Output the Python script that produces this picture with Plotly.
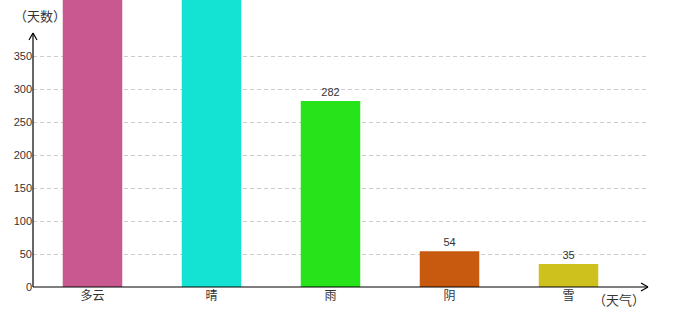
import plotly.graph_objects as go

categories = ["多云", "晴", "雨", "阴", "雪"]
values = [640, 560, 282, 54, 35]
colors = ["#C8588F", "#14E2D3", "#27E31A", "#C85A10", "#CEC11E"]
y_ticks = [0, 50, 100, 150, 200, 250, 300, 350]

W, H = 680, 320
L, R, T, B = 33, 33, 0, 33
pw, ph = W - L - R, H - T - B
y_max = ph / 0.66

def px(x):
    return (x - L) / pw

def py(y):
    return (H - B - y) / ph

labels = [str(v) if v < y_max * 0.95 else "" for v in values]

fig = go.Figure()
fig.add_trace(go.Bar(
    x=list(range(len(categories))), y=values,
    marker=dict(color=colors, line=dict(width=0)),
    width=0.5,
    text=labels, textposition="outside",
    textfont=dict(family="Liberation Sans, Arial", size=11, color="#333"),
    cliponaxis=True,
))

line = dict(color="black", width=1.2)
shapes = [
    dict(type="line", xref="paper", yref="paper", x0=px(33), y0=py(287), x1=px(33), y1=py(33), line=line),
    dict(type="line", xref="paper", yref="paper", x0=px(29), y0=py(40), x1=px(33), y1=py(33), line=line),
    dict(type="line", xref="paper", yref="paper", x0=px(37), y0=py(40), x1=px(33), y1=py(33), line=line),
    dict(type="line", xref="paper", yref="paper", x0=px(33), y0=py(287), x1=px(648), y1=py(287), line=line),
    dict(type="line", xref="paper", yref="paper", x0=px(641), y0=py(283), x1=px(648), y1=py(287), line=line),
    dict(type="line", xref="paper", yref="paper", x0=px(641), y0=py(291), x1=px(648), y1=py(287), line=line),
]

annotations = [
    dict(text="（天数）", xref="paper", yref="paper", x=px(40), y=py(15), showarrow=False,
         font=dict(family="Noto Sans CJK TC", size=13, color="#333"), xanchor="center", yanchor="middle"),
    dict(text="（天气）", xref="paper", yref="paper", x=px(619), y=py(299), showarrow=False,
         font=dict(family="Noto Sans CJK TC", size=13, color="#333"), xanchor="center", yanchor="middle"),
]

fig.update_layout(
    width=W, height=H,
    margin=dict(l=L, r=R, t=T, b=B),
    paper_bgcolor="white", plot_bgcolor="white",
    showlegend=False,
    bargap=0.5,
    shapes=shapes,
    annotations=annotations,
    xaxis=dict(
        range=[-0.5, -0.5 + pw / 119],
        tickmode="array", tickvals=list(range(len(categories))), ticktext=categories,
        showgrid=False, zeroline=False, showline=False, ticks="",
        tickfont=dict(family="Noto Sans CJK SC", size=12, color="#333"),
    ),
    yaxis=dict(
        range=[0, y_max],
        tickmode="array", tickvals=y_ticks,
        showgrid=True, gridcolor="#cccccc", griddash="4px,3px", gridwidth=1,
        zeroline=False, showline=False, ticks="",
        tickfont=dict(family="Liberation Sans, Arial", size=11, color="#333"),
    ),
)

fig.write_html("out.html")
